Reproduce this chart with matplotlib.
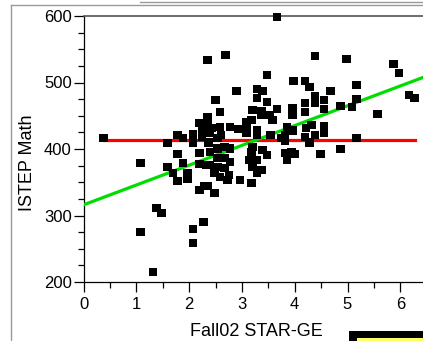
import matplotlib
matplotlib.use("Agg")
import matplotlib.pyplot as plt
from matplotlib.lines import Line2D
from matplotlib.patches import Rectangle
from matplotlib.ticker import MultipleLocator
import numpy as np

plt.rcParams['font.family'] = ['Liberation Sans', 'DejaVu Sans']

# Fall02 STAR-GE (x) vs ISTEP Math (y)
star_ge = [0.38, 1.08, 1.08, 1.31, 1.38, 1.48, 1.59, 1.59, 1.69, 1.78, 1.89, 1.78, 1.89, 1.97, 1.97,
           1.78, 2.08, 2.08, 2.20, 2.25, 2.25, 2.35, 2.35, 2.20, 2.20, 2.33, 2.20, 2.29, 2.27, 2.08,
           2.08, 2.69, 3.48, 2.90, 3.28, 3.39, 2.50, 3.28, 3.47, 2.59, 3.20, 3.37, 3.67, 3.96, 4.19,
           3.52, 3.58, 3.37, 3.18, 3.96, 4.19, 3.09, 3.09, 3.28, 2.35, 2.44, 2.59, 2.77, 2.92, 3.09,
           3.28, 3.54, 3.81, 3.96, 4.22, 4.32, 4.19, 4.28, 2.39, 2.61, 2.37, 2.54, 3.81, 3.20, 3.18,
           3.39, 3.48, 2.39, 2.54, 2.67, 2.77, 3.81, 3.94, 3.86, 4.00, 2.39, 2.54, 2.67, 2.77, 2.54,
           2.67, 3.28, 3.20, 3.37, 3.28, 2.48, 2.59, 2.75, 2.97, 3.18, 2.35, 2.48, 2.73, 3.14, 3.86,
           4.56, 4.56, 3.75, 5.17, 3.86, 4.49, 4.87, 4.38, 4.98, 5.87, 5.97, 4.28, 4.38, 4.38, 4.56,
           4.68, 5.17, 5.17, 4.56, 4.87, 5.09, 5.57, 6.16, 6.27, 4.38, 3.98, 4.19, 3.66]
istep_math = [417, 379, 275, 215, 311, 304, 409, 373, 364, 421, 417, 392, 379, 364, 355,
              352, 422, 409, 439, 428, 418, 448, 534, 394, 377, 376, 338, 344, 290, 280,
              259, 541, 511, 487, 490, 487, 474, 477, 471, 456, 459, 457, 460, 462, 469,
              451, 444, 451, 444, 451, 456, 441, 428, 428, 436, 432, 433, 433, 430, 424,
              421, 421, 421, 428, 432, 436, 418, 410, 424, 421, 410, 417, 413, 403, 395,
              398, 391, 395, 401, 403, 401, 394, 395, 386, 392, 376, 386, 386, 380, 373,
              371, 383, 373, 368, 364, 364, 358, 361, 353, 349, 344, 334, 353, 383, 433,
              434, 424, 417, 417, 383, 392, 400, 540, 535, 528, 514, 493, 480, 469, 474,
              487, 496, 475, 460, 465, 463, 453, 481, 477, 421, 502, 502, 598]

mean_y = 414
fit_intercept = 316
fit_slope = 29.8

x_ticks = [0, 1, 2, 3, 4, 5, 6]
y_ticks = [200, 300, 400, 500, 600]

W, H = 423, 341
fig = plt.figure(figsize=(W / 100, H / 100), dpi=100)
fig.patch.set_facecolor('white')

px_per_unit = 52.8
x_max = 7.0
left_px, top_px, bottom_px = 83.5, 16, 282
ax = fig.add_axes([left_px / W, (H - bottom_px) / H, x_max * px_per_unit / W, (bottom_px - top_px) / H])
ax.set_xlim(0, x_max)
ax.set_ylim(200, 600)

xs = np.array(star_ge)
ax.plot([min(xs), max(xs)], [mean_y, mean_y], color='#ff0000', lw=2.3, zorder=3)
xl = np.array([0, x_max])
ax.plot(xl, fit_intercept + fit_slope * xl, color='#00dd00', lw=2.3, zorder=3)
ax.scatter(star_ge, istep_math, marker='s', s=36, color='black', edgecolors='none', zorder=4, clip_on=False)

ax.xaxis.set_major_locator(MultipleLocator(1))
ax.xaxis.set_minor_locator(MultipleLocator(0.5))
ax.yaxis.set_major_locator(MultipleLocator(100))
ax.yaxis.set_minor_locator(MultipleLocator(25))
ax.set_xticks(x_ticks)
ax.set_yticks(y_ticks)
ax.tick_params(axis='both', which='major', direction='out', length=7.5, width=0.9, labelsize=12, color='black')
ax.tick_params(axis='both', which='minor', direction='out', length=4, width=0.9, color='black')
ax.tick_params(axis='y', which='major', pad=1)
ax.tick_params(axis='x', which='major', pad=3)

for s in ['left', 'bottom']:
    ax.spines[s].set_color('black')
    ax.spines[s].set_linewidth(0.9)
ax.spines['top'].set_color('#555555')
ax.spines['top'].set_linewidth(1.2)
ax.spines['right'].set_visible(False)

fig.text(256 / W, 1 - 331 / H, 'Fall02 STAR-GE', ha='center', va='center', fontsize=13)
fig.text(28 / W, 1 - 163 / H, 'ISTEP Math', ha='center', va='center', rotation=90, fontsize=13)

# window frame lines
fig.add_artist(Line2D([140 / W, 1], [1 - 1.5 / H, 1 - 1.5 / H], color='#999999', lw=1))
fig.add_artist(Line2D([11 / W, 1], [1 - 4.5 / H, 1 - 4.5 / H], color='#999999', lw=1))
fig.add_artist(Line2D([11 / W, 11 / W], [0, 1 - 4.5 / H], color='#999999', lw=1))

# little box at bottom right
fig.add_artist(Rectangle((349 / W, 0), (W - 349) / W, 10 / H, transform=fig.transFigure,
                         facecolor='black', edgecolor='none'))
fig.add_artist(Rectangle((357 / W, 0), (W - 357) / W, 3 / H, transform=fig.transFigure,
                         facecolor='#ffff66', edgecolor='none'))

fig.savefig('out.png', dpi=100)
